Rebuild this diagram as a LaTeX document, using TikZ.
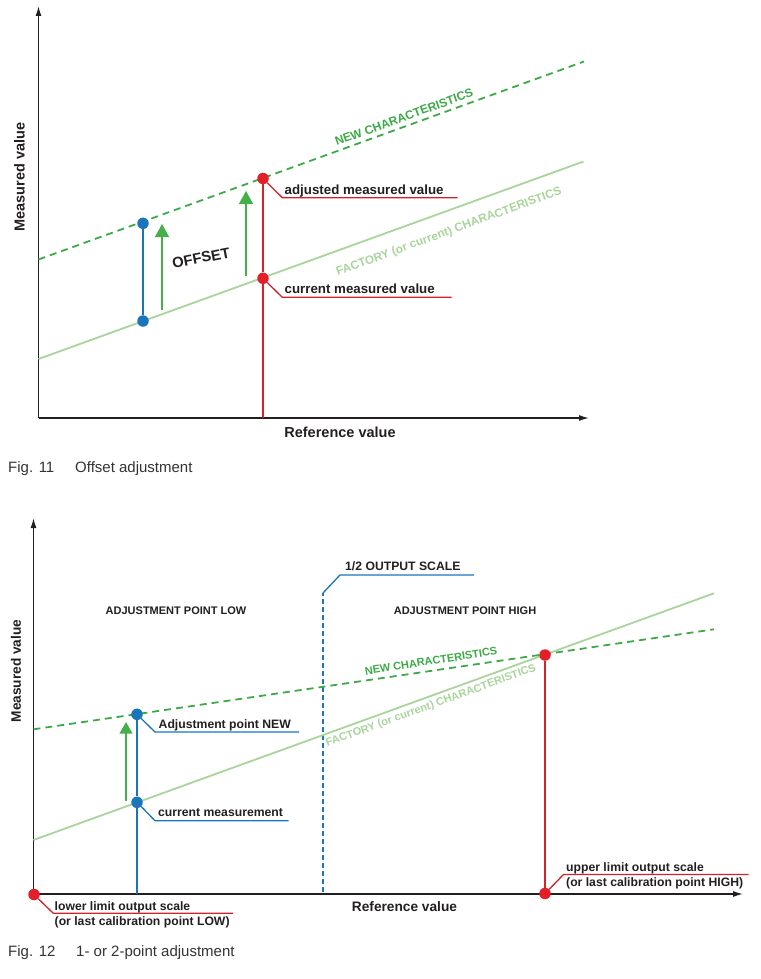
\documentclass[tikz,border=0pt]{standalone}
\usepackage{fontspec}
\setmainfont{Liberation Sans}
\usetikzlibrary{arrows.meta}
\definecolor{newgreen}{HTML}{3DAA47}
\definecolor{facgreen}{HTML}{A9D49B}
\definecolor{arrgreen}{HTML}{45B04A}
\definecolor{dotblue}{HTML}{1B75BB}
\definecolor{dotred}{HTML}{E3202A}
\definecolor{linered}{HTML}{D2232A}
\definecolor{txt}{HTML}{231F20}
\definecolor{captxt}{HTML}{333333}
\tikzset{
  axisline/.style={draw=txt, line width=1.3pt, -{Latex[length=10pt,width=6pt]}},
  factory/.style={facgreen, line width=1.8pt},
  newchar/.style={newgreen, line width=1.8pt, dash pattern=on 7pt off 5pt},
  bdot/.style={circle, fill=dotblue, inner sep=0pt, minimum size=11.5pt},
  rdot/.style={circle, fill=dotred, inner sep=0pt, minimum size=11.5pt},
  redline/.style={draw=linered, line width=1.3pt},
  blueline/.style={draw=dotblue, line width=1.3pt},
  halfdash/.style={draw=dotblue, line width=1.3pt, dash pattern=on 5pt off 3pt},
  offarrow/.style={draw=arrgreen, fill=arrgreen, line width=1.4pt, -{Triangle[length=13pt,width=14pt]}},
  lblA/.style={font=\bfseries\fontsize{13.3}{15}\selectfont, anchor=base west, inner sep=0pt, text=txt},
  lblB/.style={font=\bfseries\fontsize{12.2}{14}\selectfont, anchor=base west, inner sep=0pt, text=txt},
  axlbl/.style={font=\bfseries\fontsize{14.5}{16}\selectfont, inner sep=0pt, text=txt},
  axlblB/.style={font=\bfseries\fontsize{13.7}{16}\selectfont, inner sep=0pt, text=txt},
  caption/.style={font=\fontsize{15}{17}\selectfont, anchor=base west, inner sep=0pt, text=captxt},
  newlbl/.style={font=\bfseries\fontsize{12}{14}\selectfont, inner sep=0pt, text=newgreen},
  faclbl/.style={font=\bfseries\fontsize{11.8}{14}\selectfont, inner sep=0pt, text=facgreen},
  zonelbl/.style={font=\bfseries\fontsize{11}{13}\selectfont, inner sep=0pt, text=txt},
}
\begin{document}
\begin{tikzpicture}[x=1pt,y=-1pt]
\useasboundingbox (0,0) rectangle (760,979);
% ================= Fig. 11 =================
\coordinate (o1) at (38.5,418);
\coordinate (y1) at (38.5,6);
\coordinate (x1) at (589,418);
\draw[axisline] (o1) -- (y1);
\draw[axisline] (o1) -- (x1);
\draw[factory] (38.5,359) -- (583.5,161.5);
\draw[newchar] (38.5,259.5) -- (584,61.5);
% dots
\node[bdot] (bn) at (143,223.3) {};
\node[bdot] (bc) at (143,321) {};
\node[rdot] (ra) at (263,178.5) {};
\node[rdot] (rc) at (263,278.3) {};
\coordinate (rbot) at (263,418);
\draw[blueline] (bn) -- (bc);
\draw[redline] (ra) -- (rc);
\draw[redline] (rc) -- (rbot);
% offset arrows
\coordinate (g1a) at (162,310);
\coordinate (g1b) at (162,224);
\coordinate (g2a) at (246,276);
\coordinate (g2b) at (246,191);
\draw[offarrow] (g1a) -- (g1b);
\draw[offarrow] (g2a) -- (g2b);
\node[font=\bfseries\fontsize{14.8}{16}\selectfont, text=txt, rotate=11, inner sep=0pt] (off) at (201,258) {OFFSET};
% leaders
\coordinate (la1) at (282.3,197.7);
\coordinate (la2) at (457.7,197.7);
\coordinate (lc1) at (282.3,297.3);
\coordinate (lc2) at (451.7,297.3);
\draw[redline] (ra.-45) -- (la1) -- (la2);
\draw[redline] (rc.-45) -- (lc1) -- (lc2);
\node[lblA] (tadj) at (284.5,194.3) {adjusted measured value};
\node[lblA] (tcur) at (284.5,293.8) {current measured value};
% characteristic labels
\node[newlbl, rotate=20] (tnew1) at (404,117) {NEW CHARACTERISTICS};
\node[faclbl, rotate=20] (tfac1) at (449,232) {FACTORY (or current) CHARACTERISTICS};
% axis labels
\node[axlbl, rotate=90] (my1) at (19.5,177) {Measured value};
\node[axlbl] (rx1) at (340,432) {Reference value};
% caption
\node[caption] (c11a) at (8,472) {Fig. 11};
\node[caption] (c11b) at (75,472) {Offset adjustment};
% ================= Fig. 12 =================
\coordinate (o2) at (33.5,894);
\coordinate (y2) at (33.5,518);
\coordinate (x2) at (743,894);
\draw[axisline] (o2) -- (y2);
\draw[axisline] (o2) -- (x2);
% half scale dashed line
\coordinate (h0) at (323,892);
\coordinate (h1) at (323,593);
\coordinate (h2) at (340,575);
\coordinate (h3) at (474,575);
\draw[halfdash] (h0) -- (h1);
\draw[blueline] (h1) -- (h2) -- (h3);
\node[lblB] (thalf) at (345,570) {1/2 OUTPUT SCALE};
\draw[factory] (33.5,840) -- (714,593.3);
\draw[newchar] (33.5,729.3) -- (714,629.3);
% dots
\node[bdot] (bn2) at (137,714.3) {};
\node[bdot] (bc2) at (137,802.3) {};
\node[rdot] (rh) at (545,655) {};
\node[rdot] (rhb) at (545,893.5) {};
\node[rdot] (rl) at (34,894.5) {};
\coordinate (bbot) at (137,894);
\draw[blueline] (bn2) -- (bc2);
\draw[blueline] (bc2) -- (bbot);
\draw[redline] (rh) -- (rhb);
% arrow
\coordinate (g3a) at (126,801);
\coordinate (g3b) at (126,722);
\draw[offarrow, line width=1.3pt, -{Triangle[length=11.5pt,width=12.7pt]}] (g3a) -- (g3b);
% leaders
\coordinate (ln1) at (155,732);
\coordinate (ln2) at (299,732);
\coordinate (lm1) at (155,820.7);
\coordinate (lm2) at (288.7,820.7);
\draw[blueline] (bn2.-45) -- (ln1) -- (ln2);
\draw[blueline] (bc2.-45) -- (lm1) -- (lm2);
\node[lblB] (tadjn) at (158.5,728.5) {Adjustment point NEW};
\node[lblB] (tcurm) at (158,816.5) {current measurement};
\coordinate (ll1) at (53.3,913.3);
\coordinate (ll2) at (233,913.3);
\draw[redline] (rl.-45) -- (ll1) -- (ll2);
\node[lblB] (tlow1) at (54.5,910.3) {lower limit output scale};
\node[lblB] (tlow2) at (54.5,925.5) {(or last calibration point LOW)};
\coordinate (lu1) at (563.5,874.5);
\coordinate (lu2) at (748.5,874.5);
\draw[redline] (rhb.45) -- (lu1) -- (lu2);
\node[lblB] (tup1) at (566,871.5) {upper limit output scale};
\node[lblB] (tup2) at (566,886.5) {(or last calibration point HIGH)};
% zone labels
\node[zonelbl] (zlow) at (176,611) {ADJUSTMENT POINT LOW};
\node[zonelbl] (zhigh) at (465,611) {ADJUSTMENT POINT HIGH};
% characteristic labels
\node[newlbl, font=\bfseries\fontsize{11}{13}\selectfont, rotate=9] (tnew2) at (431,661) {NEW CHARACTERISTICS};
\node[faclbl, font=\bfseries\fontsize{11}{13}\selectfont, rotate=20] (tfac2) at (431,706) {FACTORY (or current) CHARACTERISTICS};
% axis labels
\node[axlblB, rotate=90] (my2) at (16,671) {Measured value};
\node[axlblB] (rx2) at (404.5,907) {Reference value};
% caption
\node[caption] (c12a) at (8,956.5) {Fig. 12};
\node[caption] (c12b) at (76,956.5) {1- or 2-point adjustment};
\end{tikzpicture}
\end{document}
